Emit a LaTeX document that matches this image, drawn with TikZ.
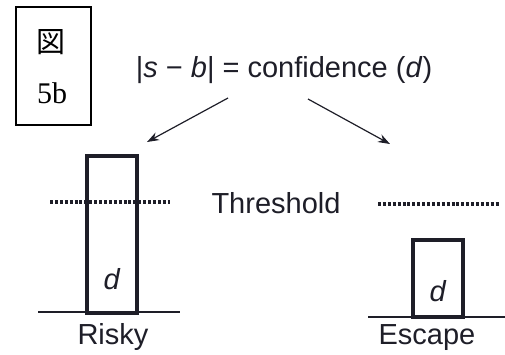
\documentclass[tikz,border=0pt]{standalone}
\usepackage{fontspec}
\setmainfont{Liberation Sans}
\newfontfamily\serifjp{Liberation Serif}
\newfontfamily\cjk{Noto Sans CJK JP}
\usetikzlibrary{arrows.meta}
\definecolor{ink}{HTML}{1E1E28}
\tikzset{
  txt/.style={inner sep=0pt, text=ink, font=\fontsize{29}{34}\selectfont},
  bar/.style={draw=ink, line width=4pt, inner sep=0pt},
  ground/.style={draw=ink, line width=2pt},
  thresh/.style={draw=ink, line width=4pt, dash pattern=on 3pt off 1.9pt},
  pointer/.style={draw=ink, line width=1.2pt, -{Stealth[length=12pt,width=8.5pt]}},
  tag/.style={draw=black, line width=1.6pt, minimum width=75pt, minimum height=118pt, inner sep=0pt}
}
\begin{document}
\begin{tikzpicture}[x=1pt,y=-1pt]
\useasboundingbox (0,0) rectangle (505,354);
% label box
\node[tag] (tagbox) at (53.5,66) {};
\node[inner sep=0pt, font=\cjk\fontsize{29}{32}\selectfont] (zu) at (51,42) {図};
\node[inner sep=0pt, font=\serifjp\fontsize{30}{32}\selectfont] (num) at (52,93) {5b};
% formula
\node[txt] (formula) at (284,70) {|\textit{s} − \textit{b}| = confidence (\textit{d})};
\coordinate (fl) at (228,98);
\coordinate (fr) at (308,99);
\coordinate (tl) at (147,142);
\coordinate (tr) at (390,144);
\draw[pointer] (fl) -- (tl);
\draw[pointer] (fr) -- (tr);
% threshold
\node[txt] (thr) at (276,203) {Threshold};
\coordinate (t1a) at (50,202);
\coordinate (t1b) at (170,202);
\coordinate (t2a) at (378,204);
\coordinate (t2b) at (499,204);
% risky
\coordinate (g1a) at (38,312);
\coordinate (g1b) at (180,312);
\draw[ground] (g1a) -- (g1b);
\node[bar, minimum width=50pt, minimum height=157pt] (risky) at (112,234) {};
\draw[thresh] (t1a) -- (t1b);
\node[txt] (d1) at (112,279) {\textit{d}};
\node[txt] (rl) at (113,337) {Risky};
% escape
\draw[thresh] (t2a) -- (t2b);
\coordinate (g2a) at (368,317);
\coordinate (g2b) at (505,317);
\draw[ground] (g2a) -- (g2b);
\node[bar, minimum width=50pt, minimum height=77pt] (escape) at (438,278) {};
\node[txt] (d2) at (438,291) {\textit{d}};
\node[txt] (el) at (427,338) {Escape};
\end{tikzpicture}
\end{document}
